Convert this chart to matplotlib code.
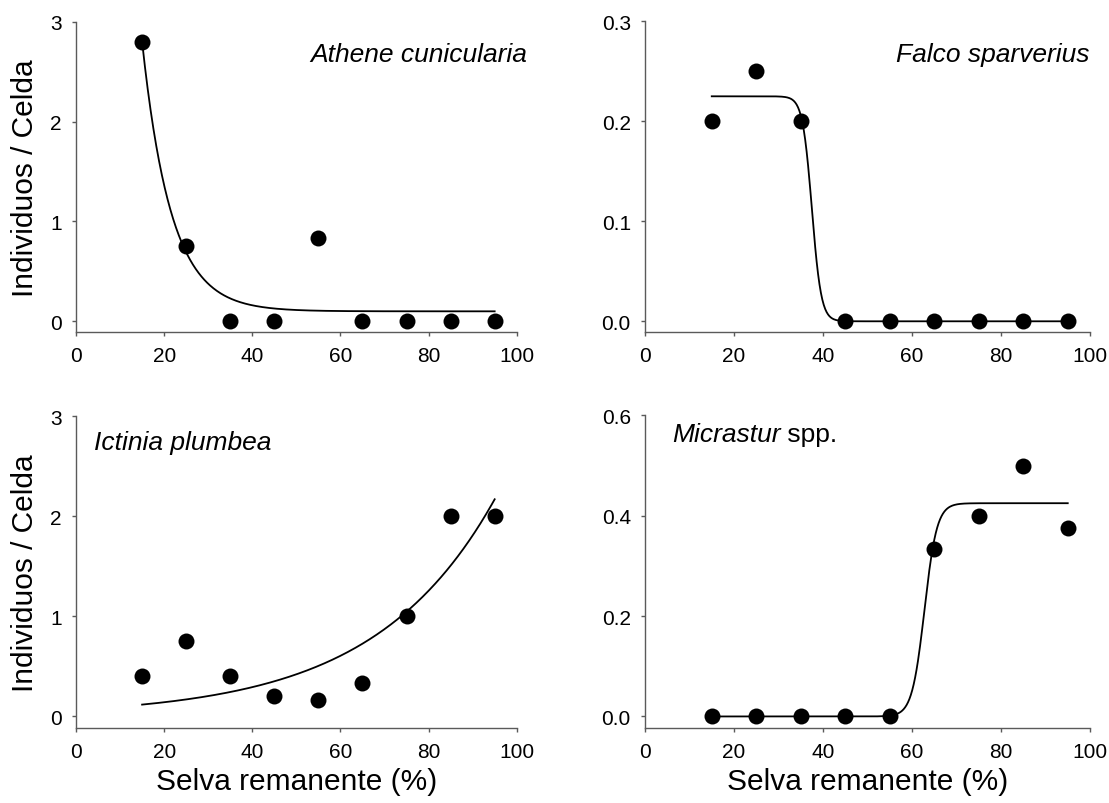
import numpy as np
import matplotlib
matplotlib.use("Agg")
import matplotlib.pyplot as plt

plt.rcParams['font.family'] = ['Liberation Sans', 'DejaVu Sans']

# ---------------- data ----------------
selva = [15, 25, 35, 45, 55, 65, 75, 85, 95]

athene = [2.8, 0.75, 0.0, 0.0, 0.83, 0.0, 0.0, 0.0, 0.0]
falco = [0.2, 0.25, 0.2, 0.0, 0.0, 0.0, 0.0, 0.0, 0.0]
ictinia = [0.4, 0.75, 0.4, 0.2, 0.167, 0.333, 1.0, 2.0, 2.0]
micrastur = [0.0, 0.0, 0.0, 0.0, 0.0, 0.333, 0.4, 0.5, 0.375]

# fitted-model parameters
athene_fit = dict(asym=0.1, amp=2.7, rate=0.152, x0=15)        # exponential decay
falco_fit = dict(upper=0.225, mid=37.5, scale=1.05)             # decreasing logistic
ictinia_fit = dict(a=0.0677, b=0.0365)                           # exponential growth
micrastur_fit = dict(upper=0.425, mid=62.8, scale=1.4)          # increasing logistic

x_ticks = [0, 20, 40, 60, 80, 100]
xlabel = "Selva remanente (%)"
ylabel = "Individuos / Celda"

# ---------------- model curves ----------------
xc = np.linspace(15, 95, 500)
athene_curve = athene_fit['asym'] + athene_fit['amp'] * np.exp(-athene_fit['rate'] * (xc - athene_fit['x0']))
falco_curve = falco_fit['upper'] / (1 + np.exp((xc - falco_fit['mid']) / falco_fit['scale']))
ictinia_curve = ictinia_fit['a'] * np.exp(ictinia_fit['b'] * xc)
micrastur_curve = micrastur_fit['upper'] / (1 + np.exp(-(xc - micrastur_fit['mid']) / micrastur_fit['scale']))

W, H = 1109, 804
fig = plt.figure(figsize=(W / 100, H / 100), dpi=100)


def ax_at(l, t, r, b):
    return fig.add_axes([l / W, 1 - b / H, (r - l) / W, (b - t) / H])


ax1 = ax_at(76, 22.7, 516.7, 333.3)
ax2 = ax_at(645, 22.3, 1090, 333.3)
ax3 = ax_at(76, 417.3, 516.7, 729)
ax4 = ax_at(645, 416.4, 1090, 729)

spine_col = '#5a5a5a'
panels = [
    (ax1, athene, athene_curve, (-0.11, 3), [0, 1, 2, 3], "{:.0f}"),
    (ax2, falco, falco_curve, (-0.011, 0.3), [0.0, 0.1, 0.2, 0.3], "{:.1f}"),
    (ax3, ictinia, ictinia_curve, (-0.117, 3), [0, 1, 2, 3], "{:.0f}"),
    (ax4, micrastur, micrastur_curve, (-0.023, 0.6), [0.0, 0.2, 0.4, 0.6], "{:.1f}"),
]

for ax, ys, curve, ylim, yt, fmt in panels:
    ax.plot(xc, curve, color='black', lw=1.3, zorder=2)
    ax.plot(selva, ys, 'o', color='black', markersize=11.5, mew=0, zorder=3, clip_on=False)
    ax.set_xlim(0, 100)
    ax.set_ylim(*ylim)
    ax.set_xticks(x_ticks)
    ax.set_xticklabels([str(v) for v in x_ticks])
    ax.set_yticks(yt)
    ax.set_yticklabels([fmt.format(v) for v in yt])
    for s in ['top', 'right']:
        ax.spines[s].set_visible(False)
    for s in ['left', 'bottom']:
        ax.spines[s].set_color(spine_col)
        ax.spines[s].set_linewidth(1.0)
    ax.tick_params(axis='both', direction='out', length=3, width=1.0, color=spine_col,
                   labelsize=15, labelcolor='black')
    ax.tick_params(axis='y', pad=7.2)
    ax.tick_params(axis='x', pad=7.0)
    ax.set_facecolor('white')

for ax in (ax1, ax3):
    ax.set_ylabel(ylabel, fontsize=21.5)
    ax.yaxis.set_label_coords(-0.085, 0.5)
for ax in (ax3, ax4):
    ax.set_xlabel(xlabel, fontsize=21.5)
    ax.xaxis.set_label_coords(0.5, -0.125)

sp_fs = 19
ax1.text((527 - 76) / 440.7, 1 - (61.7 - 22.7) / 310.6, "Athene cunicularia", style='italic',
         fontsize=sp_fs, ha='right', va='baseline', transform=ax1.transAxes)
ax2.text((1089 - 645) / 445, 1 - (61.7 - 22.3) / 311, "Falco sparverius", style='italic',
         fontsize=sp_fs, ha='right', va='baseline', transform=ax2.transAxes)
ax3.text((94 - 76) / 440.7, 1 - (450 - 417.3) / 311.7, "Ictinia plumbea", style='italic',
         fontsize=sp_fs, ha='left', va='baseline', transform=ax3.transAxes)
t4 = ax4.text((672 - 645) / 445, 1 - (442 - 416.4) / 312.6, "Micrastur", style='italic',
              fontsize=sp_fs, ha='left', va='baseline', transform=ax4.transAxes)
ax4.annotate(" spp.", xy=(1, 0), xycoords=t4, fontsize=sp_fs, ha='left', va='bottom')

fig.savefig("out.png", dpi=100, facecolor='white')
